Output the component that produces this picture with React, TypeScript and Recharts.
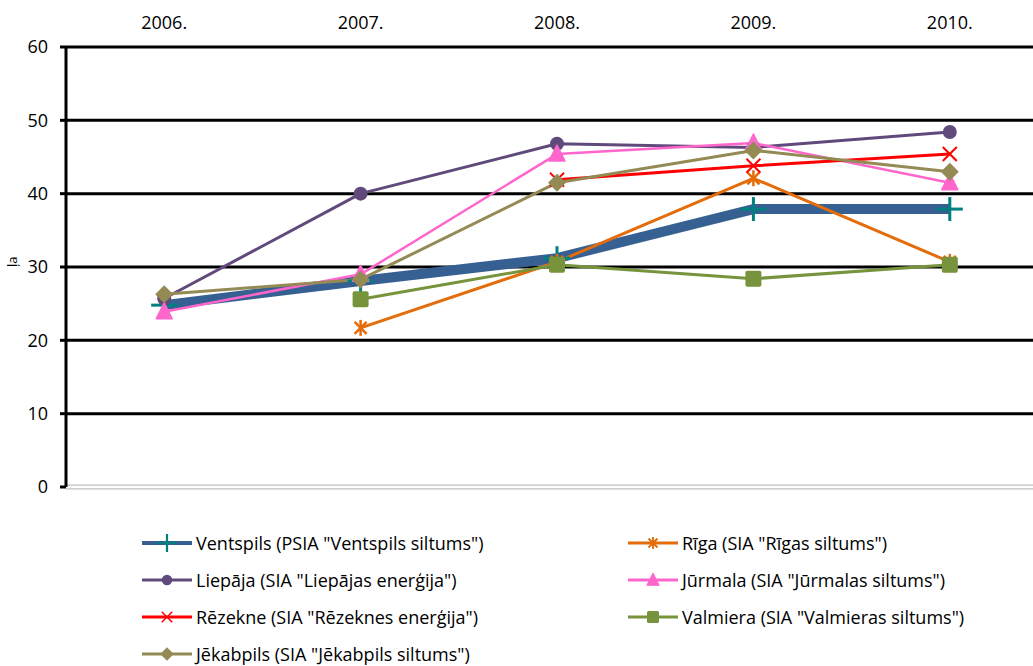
import React from "react";
import { LineChart, Line, XAxis, YAxis, ReferenceLine, Legend, Label } from "recharts";

const years = ["2006.", "2007.", "2008.", "2009.", "2010."];
const ventspils = [24.8, 28.1, 31.2, 37.9, 37.9];
const riga = [null, 21.7, 30.7, 42.1, 30.7];
const liepaja = [25.7, 40.0, 46.8, 46.3, 48.4];
const jurmala = [23.9, 29.0, 45.4, 46.9, 41.5];
const rezekne = [null, null, 41.9, 43.8, 45.4];
const valmiera = [null, 25.6, 30.3, 28.4, 30.3];
const jekabpils = [26.3, 28.3, 41.5, 45.9, 43.0];
const yTicks = [0, 10, 20, 30, 40, 50, 60];
const gridValues = [10, 20, 30, 40, 50];
const xTicks = [0, 1, 2, 3, 4];
const boundaryTicks = [-0.5, 0.5, 1.5, 2.5, 3.5];

const data = years.map((y, i) => ({
  idx: i,
  year: y,
  ventspils: ventspils[i],
  riga: riga[i],
  liepaja: liepaja[i],
  jurmala: jurmala[i],
  rezekne: rezekne[i],
  valmiera: valmiera[i],
  jekabpils: jekabpils[i],
}));

type Kind = "plus" | "star" | "circle" | "triangle" | "x" | "square" | "diamond";

function marker(kind: Kind, color: string, cx: number, cy: number, key?: string) {
  switch (kind) {
    case "plus":
      return (
        <g key={key}>
          <line x1={cx - 13} y1={cy} x2={cx + 13} y2={cy} stroke={color} strokeWidth={3} />
          <line x1={cx} y1={cy - 12} x2={cx} y2={cy + 12} stroke={color} strokeWidth={3} />
        </g>
      );
    case "star":
      return (
        <g key={key}>
          <line x1={cx} y1={cy - 8} x2={cx} y2={cy + 8} stroke={color} strokeWidth={2.5} />
          <line x1={cx - 6} y1={cy - 6} x2={cx + 6} y2={cy + 6} stroke={color} strokeWidth={2.5} />
          <line x1={cx + 6} y1={cy - 6} x2={cx - 6} y2={cy + 6} stroke={color} strokeWidth={2.5} />
        </g>
      );
    case "circle":
      return <circle key={key} cx={cx} cy={cy} r={7} fill={color} />;
    case "triangle":
      return (
        <polygon
          key={key}
          points={`${cx},${cy - 9} ${cx + 8},${cy + 7} ${cx - 8},${cy + 7}`}
          fill={color}
          stroke={color}
          strokeWidth={1.5}
          strokeLinejoin="round"
        />
      );
    case "x":
      return (
        <g key={key}>
          <line x1={cx - 7} y1={cy - 7} x2={cx + 7} y2={cy + 7} stroke={color} strokeWidth={2} />
          <line x1={cx + 7} y1={cy - 7} x2={cx - 7} y2={cy + 7} stroke={color} strokeWidth={2} />
        </g>
      );
    case "square":
      return <rect key={key} x={cx - 8} y={cy - 8} width={16} height={16} rx={2} fill={color} />;
    case "diamond":
      return (
        <polygon
          key={key}
          points={`${cx},${cy - 9} ${cx + 9},${cy} ${cx},${cy + 9} ${cx - 9},${cy}`}
          fill={color}
        />
      );
  }
  return null;
}

const makeDot = (kind: Kind, color: string) => (props: any) => {
  const { cx, cy, index, value } = props;
  const k = `d-${kind}-${index}`;
  if (cx == null || cy == null || value == null || (Array.isArray(value) && value[1] == null)) {
    return <g key={k} />;
  }
  return marker(kind, color, cx, cy, k);
};

const series = [
  { key: "ventspils", name: 'Ventspils (PSIA "Ventspils siltums")', color: "#376092", mcolor: "#008080", width: 10, kind: "plus" as Kind },
  { key: "riga", name: 'Rīga (SIA "Rīgas siltums")', color: "#E46C0A", mcolor: "#E46C0A", width: 3, kind: "star" as Kind },
  { key: "liepaja", name: 'Liepāja (SIA "Liepājas enerģija")', color: "#604A7B", mcolor: "#604A7B", width: 3, kind: "circle" as Kind },
  { key: "jurmala", name: 'Jūrmala (SIA "Jūrmalas siltums")', color: "#FF66CC", mcolor: "#FF66CC", width: 2.5, kind: "triangle" as Kind },
  { key: "rezekne", name: 'Rēzekne (SIA "Rēzeknes enerģija")', color: "#FF0000", mcolor: "#FF0000", width: 3, kind: "x" as Kind },
  { key: "valmiera", name: 'Valmiera (SIA "Valmieras siltums")', color: "#77933C", mcolor: "#77933C", width: 3, kind: "square" as Kind },
  { key: "jekabpils", name: 'Jēkabpils (SIA "Jēkabpils siltums")', color: "#948A54", mcolor: "#948A54", width: 3, kind: "diamond" as Kind },
];

const FONT = "'Open Sans', sans-serif";

const legendPos = [
  { left: 142, top: 543 },
  { left: 628, top: 543 },
  { left: 142, top: 580 },
  { left: 628, top: 580 },
  { left: 142, top: 617 },
  { left: 628, top: 617 },
  { left: 142, top: 654 },
];

const LegendContent = () => (
  <div style={{ position: "relative", width: 1060, height: 666, fontFamily: FONT }}>
    {series.map((s, i) => (
      <div
        key={s.key}
        style={{
          position: "absolute",
          left: legendPos[i].left,
          top: legendPos[i].top - 14,
          height: 28,
          display: "flex",
          alignItems: "center",
          whiteSpace: "nowrap",
        }}
      >
        <svg width={54} height={28} style={{ display: "block" }}>
          <line x1={0} y1={14} x2={50} y2={14} stroke={s.color} strokeWidth={s.key === "ventspils" ? 4 : 3} />
          <g transform="translate(25 14) scale(0.75) translate(-25 -14)">{marker(s.kind, s.mcolor, 25, 14)}</g>
        </svg>
        <span style={{ fontSize: 18, color: "#000" }}>{s.name}</span>
      </div>
    ))}
  </div>
);

export default function App() {
  return (
    <div style={{ position: "absolute", left: 0, top: 0, width: 1033, height: 666, overflow: "hidden", background: "#fff" }}>
      <LineChart width={1060} height={666} data={data} margin={{ top: 0, right: 12, bottom: 179, left: 0 }}>
        <XAxis
          xAxisId="b"
          type="number"
          dataKey="idx"
          domain={[-0.5, 4.5]}
          ticks={boundaryTicks}
          orientation="top"
          mirror
          axisLine={false}
          tickSize={6}
          tickLine={{ stroke: "#000", strokeWidth: 3 }}
          tickFormatter={() => ""}
          height={0}
        />
        <XAxis
          type="number"
          dataKey="idx"
          domain={[-0.5, 4.5]}
          ticks={xTicks}
          orientation="top"
          height={47}
          axisLine={{ stroke: "#000", strokeWidth: 3 }}
          tickLine={false}
          tickMargin={12}
          tickFormatter={(v: number) => years[v]}
          tick={{ fill: "#000", fontSize: 18, fontFamily: FONT }}
        />
        <YAxis
          type="number"
          domain={[0, 60]}
          ticks={yTicks}
          width={66}
          axisLine={{ stroke: "#000", strokeWidth: 3 }}
          tickLine={{ stroke: "#000", strokeWidth: 3 }}
          tickSize={6}
          tickMargin={12}
          tick={{ fill: "#000", fontSize: 18, fontFamily: FONT }}
        >
          <Label
            value="ļa"
            angle={-90}
            position="insideLeft"
            offset={12}
            style={{ fontSize: 13, fill: "#000", fontFamily: FONT }}
          />
        </YAxis>
        <ReferenceLine y={0} stroke="#c0c0c0" strokeWidth={5} />
        <ReferenceLine y={0} stroke="#ffffff" strokeWidth={2.5} />
        {gridValues.map((v) => (
          <ReferenceLine key={v} y={v} stroke="#000" strokeWidth={3} />
        ))}
        {series.map((s) => (
          <Line
            key={s.key}
            dataKey={s.key}
            name={s.name}
            stroke={s.color}
            strokeWidth={s.width}
            dot={makeDot(s.kind, s.mcolor)}
            activeDot={false}
            isAnimationActive={false}
            strokeLinejoin="round"
          />
        ))}
        <Legend
          layout="horizontal"
          verticalAlign="middle"
          align="center"
          content={() => <LegendContent />}
          wrapperStyle={{ left: 0, top: 0, width: 1060, height: 666, pointerEvents: "none" }}
        />
      </LineChart>
    </div>
  );
}
